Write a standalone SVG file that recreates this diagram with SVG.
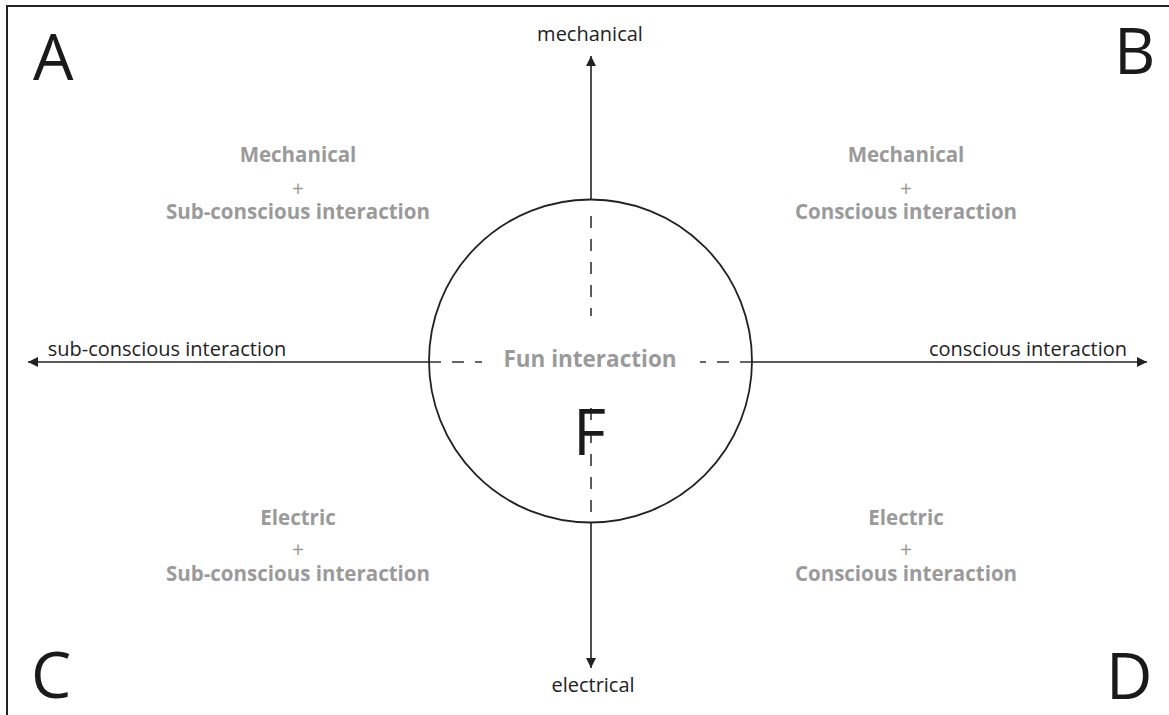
<svg xmlns="http://www.w3.org/2000/svg" width="1169" height="715" viewBox="0 0 1169 715">
<style>
.ax{stroke:#222;stroke-width:1.6;fill:none}
.dash{stroke:#333;stroke-width:1.6;stroke-dasharray:12 11;fill:none}
.lbl{font-family:"Open Sans",sans-serif;font-size:20px;fill:#222;text-anchor:middle}
.q{font-family:"Open Sans",sans-serif;font-size:20.5px;font-weight:bold;fill:#9a9a9a;text-anchor:middle}
.plus{font-family:"Open Sans",sans-serif;font-size:21px;fill:#9a9a9a;text-anchor:middle}
.big{font-family:"Open Sans",sans-serif;font-size:64px;fill:#1a1a1a}
</style>
<defs>
<marker id="ah" viewBox="0 0 10 10" refX="10" refY="5" markerWidth="10" markerHeight="10" markerUnits="userSpaceOnUse" orient="auto"><path d="M0,0 L10,5 L0,10 z" fill="#222"/></marker>
</defs>
<rect width="1169" height="715" fill="#fff"/>
<path d="M7,715 V6 H1169" stroke="#222" stroke-width="2" fill="none"/>
<g id="connectors">
<line class="ax" x1="591" y1="200" x2="591" y2="56" marker-end="url(#ah)"/>
<line class="ax" x1="591" y1="522" x2="591" y2="668" marker-end="url(#ah)"/>
<line class="ax" x1="429" y1="362" x2="28" y2="362" marker-end="url(#ah)"/>
<line class="ax" x1="752" y1="362" x2="1147" y2="362" marker-end="url(#ah)"/>
<line class="dash" x1="591" y1="216" x2="591" y2="316"/>
<line class="dash" x1="591" y1="408" x2="591" y2="522"/>
<line class="dash" x1="429" y1="362" x2="482" y2="362"/>
<line class="dash" x1="752" y1="362" x2="700" y2="362"/>
</g>
<g id="circle-F">
<circle cx="590.5" cy="361" r="161.5" fill="none" stroke="#222" stroke-width="1.8"/>
<text class="q" x="590" y="367" style="font-size:22.5px">Fun interaction</text>
<text class="big" x="573" y="455">F</text>
</g>
<g id="axis-labels">
<text class="lbl" x="590" y="41">mechanical</text>
<text class="lbl" x="593" y="692">electrical</text>
<text class="lbl" x="167" y="356">sub-conscious interaction</text>
<text class="lbl" x="1028" y="356">conscious interaction</text>
</g>
<g id="quad-A">
<text class="big" x="33" y="80">A</text>
<text class="q" x="298" y="162">Mechanical</text>
<text class="plus" x="298" y="196">+</text>
<text class="q" x="298" y="219">Sub-conscious interaction</text>
</g>
<g id="quad-B">
<text class="big" x="1114" y="74">B</text>
<text class="q" x="906" y="162">Mechanical</text>
<text class="plus" x="906" y="196">+</text>
<text class="q" x="906" y="219">Conscious interaction</text>
</g>
<g id="quad-C">
<text class="big" x="31" y="698">C</text>
<text class="q" x="298" y="525">Electric</text>
<text class="plus" x="298" y="557">+</text>
<text class="q" x="298" y="581">Sub-conscious interaction</text>
</g>
<g id="quad-D">
<text class="big" x="1106" y="699">D</text>
<text class="q" x="906" y="525">Electric</text>
<text class="plus" x="906" y="557">+</text>
<text class="q" x="906" y="581">Conscious interaction</text>
</g>
</svg>
